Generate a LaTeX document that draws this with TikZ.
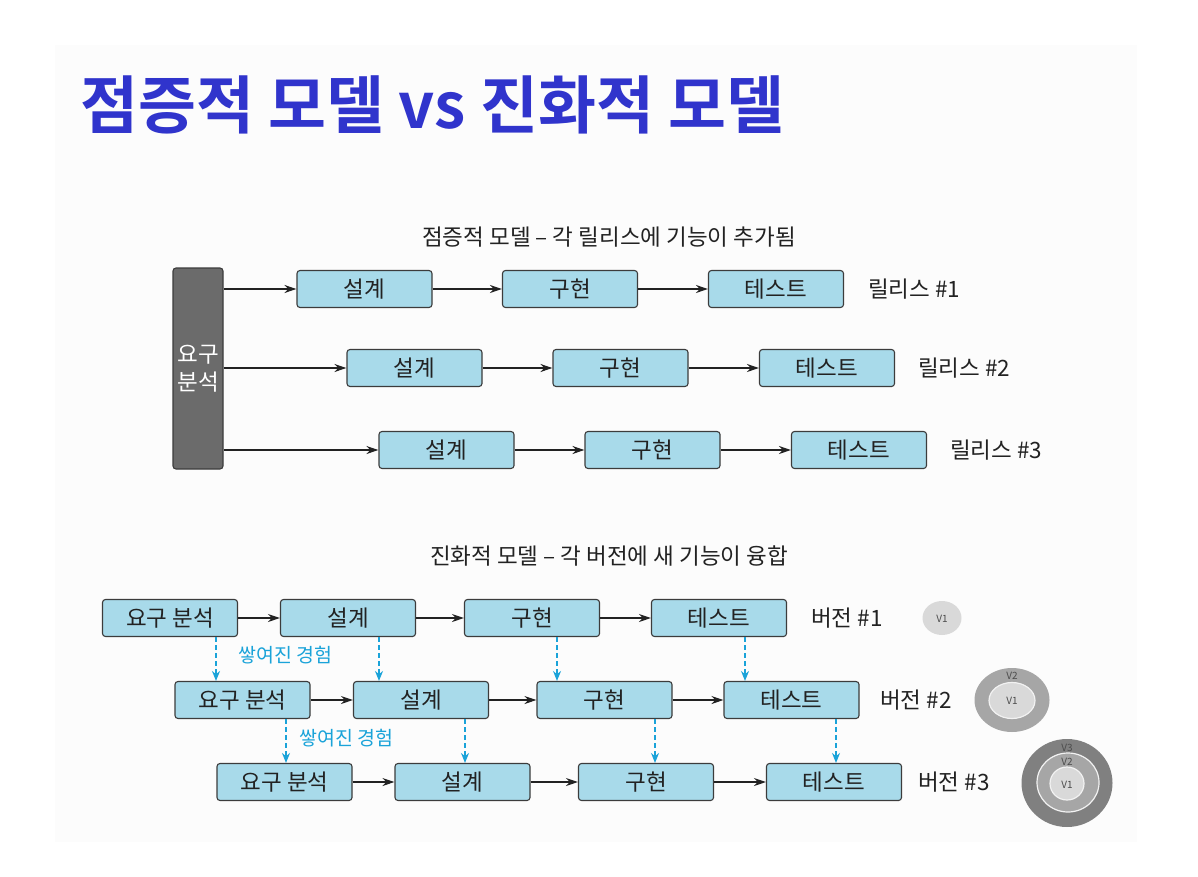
\documentclass[tikz,border=0pt]{standalone}
\usepackage{fontspec}
\setmainfont{Noto Sans CJK KR}
\newfontfamily\titlefont{Noto Sans CJK KR Bold}
\usetikzlibrary{arrows.meta}
\definecolor{boxblue}{RGB}{168,218,234}
\definecolor{boxline}{RGB}{60,60,60}
\definecolor{titleblue}{RGB}{48,52,204}
\definecolor{expblue}{RGB}{26,163,217}
\definecolor{txt}{RGB}{34,34,34}
\definecolor{darkreq}{RGB}{107,107,107}
\tikzset{
  stage/.style={draw=boxline, line width=1.1pt, fill=boxblue, rounded corners=3pt,
    minimum width=135pt, minimum height=37pt, inner sep=0pt, font=\fontsize{22.5}{26}\selectfont, text=txt},
  lbl/.style={anchor=west, inner sep=0pt, font=\fontsize{22.5}{26}\selectfont, text=txt},
  arr/.style={draw=txt, line width=1.1pt, -{Stealth[length=12pt,width=8pt]}},
  darr/.style={draw=expblue, line width=1.3pt, dash pattern=on 5pt off 3pt, -{Stealth[length=10pt,width=8pt]}},
  exp/.style={anchor=west, inner sep=0pt, text=expblue, font=\fontsize{19.5}{22}\selectfont},
  vtxt/.style={inner sep=0pt, text=black!70, font=\fontsize{10}{11}\selectfont},
}
\begin{document}
\begin{tikzpicture}[x=1pt,y=-1pt]
\useasboundingbox (0,0) rectangle (1198,877);
\fill[white] (0,0) rectangle (1198,877);
\fill[black!1] (55,45) rectangle (1137,842);

% title
\node[anchor=west, inner sep=0pt, text=titleblue, font=\titlefont\fontsize{63}{70}\selectfont] (title) at (80,105) {점증적 모델 vs 진화적 모델};

% ---------- incremental ----------
\node[inner sep=0pt, text=txt, font=\fontsize{22.5}{26}\selectfont] (sub1) at (609,237) {점증적 모델 – 각 릴리스에 기능이 추가됨};

\node[draw=boxline, line width=1.1pt, fill=darkreq, rounded corners=3pt, minimum width=50pt, minimum height=201pt, inner sep=0pt,
  text=white, align=center, font=\fontsize{22.5}{28}\selectfont] (req) at (198,368.5) {요구\\분석};

\node[stage] (a11) at (364.5,289) {설계};
\node[stage] (a12) at (570,289) {구현};
\node[stage] (a13) at (776,289) {테스트};
\node[lbl] (r1) at (868,289) {릴리스 \#1};

\node[stage] (a21) at (414.5,368) {설계};
\node[stage] (a22) at (620.5,368) {구현};
\node[stage] (a23) at (827,368) {테스트};
\node[lbl] (r2) at (918,368) {릴리스 \#2};

\node[stage] (a31) at (446.5,450) {설계};
\node[stage] (a32) at (652.5,450) {구현};
\node[stage] (a33) at (859,450) {테스트};
\node[lbl] (r3) at (950,450) {릴리스 \#3};

\draw[arr] (req.east |- a11.west) -- (a11.west);
\draw[arr] (a11) -- (a12);
\draw[arr] (a12) -- (a13);
\draw[arr] (req.east |- a21.west) -- (a21.west);
\draw[arr] (a21) -- (a22);
\draw[arr] (a22) -- (a23);
\draw[arr] (req.east |- a31.west) -- (a31.west);
\draw[arr] (a31) -- (a32);
\draw[arr] (a32) -- (a33);

% ---------- evolutionary ----------
\node[inner sep=0pt, text=txt, font=\fontsize{22.5}{26}\selectfont] (sub2) at (609,556) {진화적 모델 – 각 버전에 새 기능이 융합};

\node[stage] (b10) at (170,618) {요구 분석};
\node[stage] (b11) at (348,618) {설계};
\node[stage] (b12) at (532,618) {구현};
\node[stage] (b13) at (719,618) {테스트};
\node[lbl] (v1) at (811,618) {버전 \#1};

\node[stage] (b20) at (242.5,700) {요구 분석};
\node[stage] (b21) at (421,700) {설계};
\node[stage] (b22) at (604.5,700) {구현};
\node[stage] (b23) at (791.5,700) {테스트};
\node[lbl] (v2) at (880,700) {버전 \#2};

\node[stage] (b30) at (284.5,782) {요구 분석};
\node[stage] (b31) at (462.5,782) {설계};
\node[stage] (b32) at (646,782) {구현};
\node[stage] (b33) at (834,782) {테스트};
\node[lbl] (v3) at (918,782) {버전 \#3};

\foreach \r in {1,2,3}{
  \draw[arr] (b\r0) -- (b\r1);
  \draw[arr] (b\r1) -- (b\r2);
  \draw[arr] (b\r2) -- (b\r3);
}

% dashed experience arrows
\coordinate (d10) at ([xshift=46pt]b10.south);
\coordinate (d11) at ([xshift=31pt]b11.south);
\coordinate (d12) at ([xshift=25pt]b12.south);
\coordinate (d13) at ([xshift=26pt]b13.south);
\coordinate (d20) at ([xshift=43.5pt]b20.south);
\coordinate (d21) at ([xshift=44pt]b21.south);
\coordinate (d22) at ([xshift=50.5pt]b22.south);
\coordinate (d23) at ([xshift=44.5pt]b23.south);
\foreach \c in {0,1,2,3}{
  \draw[darr] (d1\c) -- (d1\c |- b20.north);
  \draw[darr] (d2\c) -- (d2\c |- b30.north);
}
\node[exp] (e1) at (238,655) {쌓여진 경험};
\node[exp] (e2) at (299,738) {쌓여진 경험};

% version circles
\fill[black!15] (942,618) ellipse [x radius=19.5pt, y radius=17pt];
\node[vtxt] (c11) at (942,619) {V1};

\fill[black!35] (1012,700) ellipse [x radius=37.5pt, y radius=32pt];
\draw[black!5, line width=1.2pt, fill=black!15] (1012,700.5) ellipse [x radius=23pt, y radius=18pt];
\node[vtxt] (c21) at (1012,701) {V1};
\node[vtxt] (c22) at (1012,676) {V2};

\fill[black!50] (1067,783) ellipse [x radius=45.5pt, y radius=44pt];
\draw[black!5, line width=1.2pt, fill=black!35] (1068,782.5) ellipse [x radius=31pt, y radius=29.5pt];
\draw[black!5, line width=1.2pt, fill=black!15] (1067,783.5) ellipse [x radius=17pt, y radius=16.5pt];
\node[vtxt] (c31) at (1067,785) {V1};
\node[vtxt] (c32) at (1067,762) {V2};
\node[vtxt] (c33) at (1067,748) {V3};
\end{tikzpicture}
\end{document}
